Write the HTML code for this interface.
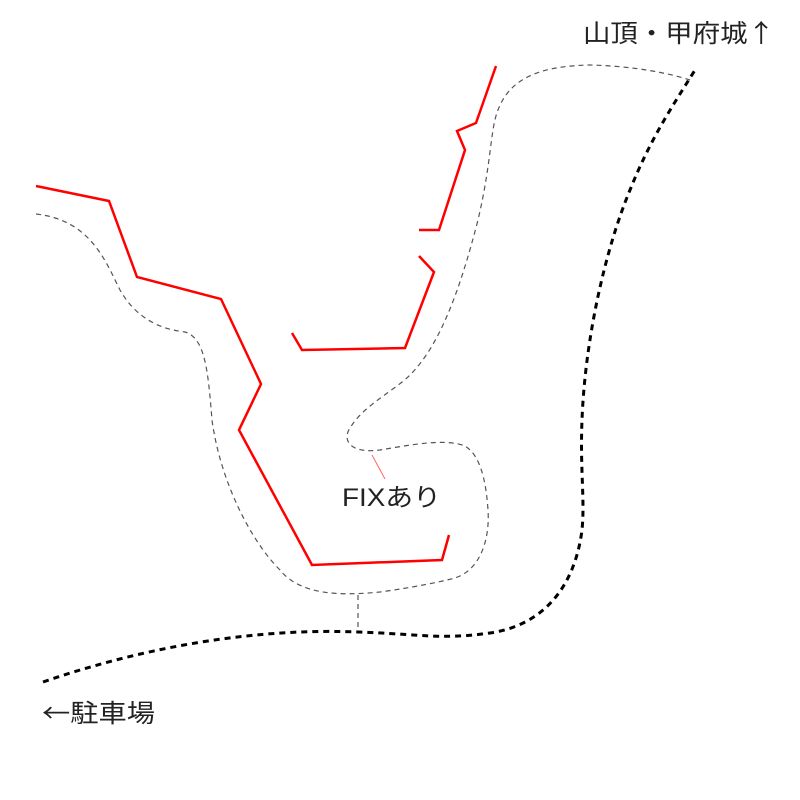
<!DOCTYPE html>
<html><head><meta charset="utf-8"><style>
html,body{margin:0;padding:0;background:#fff;width:800px;height:800px;overflow:hidden}
svg text{font-family:"Liberation Sans","Noto Sans CJK JP",sans-serif;fill:#222}
svg text.j{font-family:"Noto Sans CJK JP",sans-serif}
</style></head><body>
<svg width="800" height="800" viewBox="0 0 800 800" xmlns="http://www.w3.org/2000/svg">
<g fill="none" stroke="#f00" stroke-width="2.5" stroke-linejoin="miter">
<polyline points="496,66 476,123 457,131 465,150 439,230 419,230"/>
<polyline points="419,256 434,272 405,348 302,350 292,333"/>
<polyline points="36,186 109,201 137,277 221,299 261,384 239,430 312,565 442,560 449,535"/>
</g>
<g fill="none" stroke="#555" stroke-width="1.2" stroke-dasharray="5,4">
<path d="M36,214 C90,220 105,260 120,290 C140,325 170,330 185,332 C205,338 208,370 212,420 C220,480 250,540 280,570 C300,595 340,596 380,592 C410,588 440,582 455,578 C480,570 490,540 488,510 C486,480 480,455 465,446 C445,438 410,445 380,450 C350,454 340,440 352,425 C365,405 395,390 410,375 C440,345 460,290 478,220 C492,160 490,130 498,110 C510,78 540,66 590,65 C630,66 665,72 690,80"/>
<line x1="358" y1="595" x2="358" y2="630"/>
</g>
<path d="M43,682 C150,645 260,628 358,632 C420,634 440,640 490,633 C545,625 575,585 582,530 C585,500 580,470 582,420 C585,340 605,250 630,190 C650,140 670,110 695,70" fill="none" stroke="#000" stroke-width="3" stroke-dasharray="6,5"/>
<line x1="372" y1="455" x2="385" y2="479" stroke="#f66" stroke-width="1"/>
<text class="j" x="583" y="42" font-size="25" textLength="192" lengthAdjust="spacingAndGlyphs">山頂・甲府城↑</text>
<text class="j" x="42" y="722" font-size="25" textLength="113" lengthAdjust="spacingAndGlyphs">←駐車場</text>
<text x="342" y="506" font-size="25" textLength="99" lengthAdjust="spacingAndGlyphs">FIXあり</text>
</svg>
</body></html>
